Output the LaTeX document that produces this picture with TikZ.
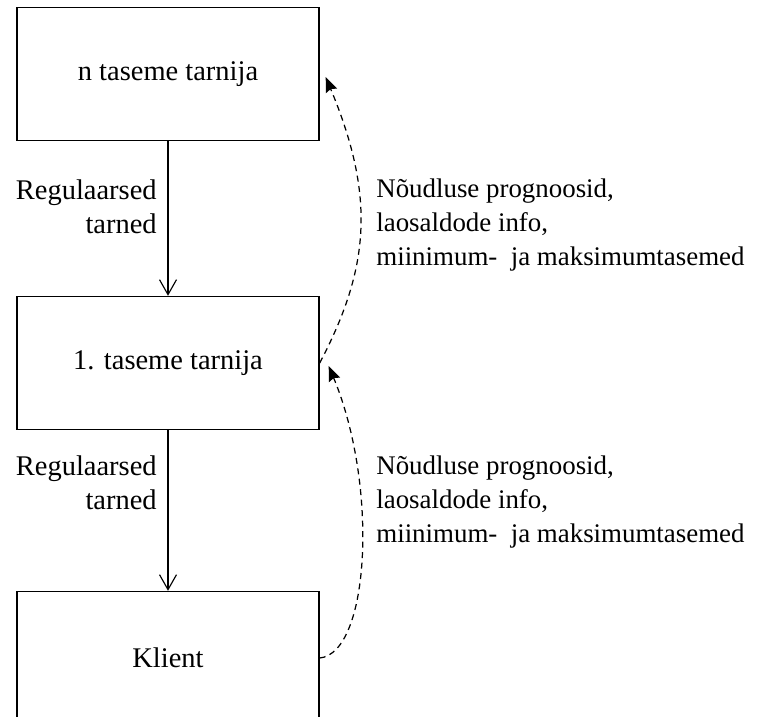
\documentclass[tikz,border=0pt]{standalone}
\usepackage{fontspec}
\setmainfont{Liberation Serif}
\newfontfamily\timesfont{Liberation Serif}
\usetikzlibrary{arrows.meta, positioning}

\begin{document}
\begin{tikzpicture}[
    every node/.style={font=\timesfont\fontsize{16.2}{19.6}\selectfont, inner sep=0pt},
    box/.style={draw=black, line width=0.8pt, minimum width=6.04cm, minimum height=2.66cm},
    infotext/.style={align=left, anchor=west, font=\timesfont\fontsize{15.3}{19.4}\selectfont},
    flow/.style={-{Straight Barb[length=0.3cm, width=0.34cm]}, line width=0.65pt},
    info/.style={-{Stealth[length=0.3cm, width=0.24cm, inset=0.04cm]}, dash pattern=on 0.12cm off 0.09cm, line width=0.7pt}
]

% Picture frame
\useasboundingbox (0,0) rectangle (15.48,-14.32);

% Supply chain levels
\node[box] (ntase) at (3.36,-1.48) {n taseme tarnija};
\node[box] (tase1) at (3.36,-7.26) {1. taseme tarnija};
\node[box] (klient) at (3.36,-13.16) {Klient};

% Deliveries
\foreach \i/\j in {ntase/tase1, tase1/klient}
    \draw[flow] (\i) -- (\j);

\node[align=right, anchor=east] (tarne1) at (3.14,-4.14) {Regulaarsed\\tarned};
\node[align=right, anchor=east] (tarne2) at (3.14,-9.66) {Regulaarsed\\tarned};

% Information flow back up
\coordinate (ntase_in) at ([xshift=0.12cm, yshift=-0.06cm]ntase.east);
\coordinate (tase1_in) at ([xshift=0.18cm, yshift=-0.06cm]tase1.east);
\draw[info] (tase1.east) .. controls +(1.0,1.9) and +(1.0,-2.4) .. (ntase_in);
\draw[info] (klient.east) .. controls +(1.0,0.1) and +(1.0,-2.4) .. (tase1_in);

\node[infotext] (info1) at (7.52,-4.5) {N\~oudluse prognoosid,\\laosaldode info,\\miinimum-\ \ ja maksimumtasemed};
\node[infotext] (info2) at (7.52,-10.04) {N\~oudluse prognoosid,\\laosaldode info,\\miinimum-\ \ ja maksimumtasemed};

\end{tikzpicture}
\end{document}
